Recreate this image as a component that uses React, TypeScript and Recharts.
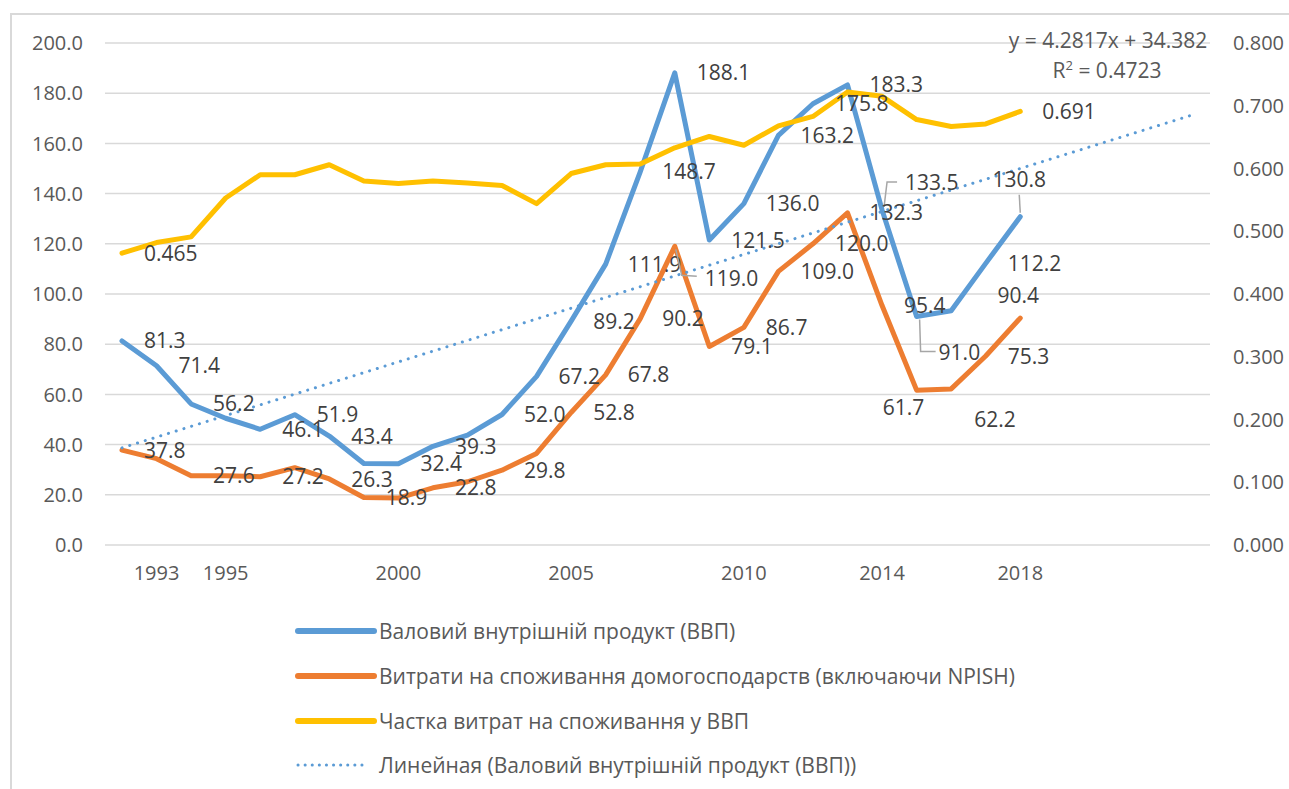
import React from "react";
import {
  ComposedChart,
  Line,
  XAxis,
  YAxis,
  CartesianGrid,
  Legend,
  LabelList,
  Customized,
} from "recharts";

// categories (trend line is forecast to 2023)
const years = [
  "1992", "1993", "1994", "1995", "1996", "1997", "1998", "1999", "2000",
  "2001", "2002", "2003", "2004", "2005", "2006", "2007", "2008", "2009",
  "2010", "2011", "2012", "2013", "2014", "2015", "2016", "2017", "2018",
  "2019", "2020", "2021", "2022", "2023",
];

const gdp = [
  81.3, 71.4, 56.2, 50.5, 46.1, 51.9, 43.4, 32.5, 32.4, 39.3, 43.8, 52.0, 67.2,
  89.2, 111.9, 148.7, 188.1, 121.5, 136.0, 163.2, 175.8, 183.3, 133.5, 91.0,
  93.3, 112.2, 130.8,
];

const consumption = [
  37.8, 34.4, 27.6, 27.6, 27.2, 30.8, 26.3, 18.9, 18.7, 22.8, 25.2, 29.8, 36.5,
  52.8, 67.8, 90.2, 119.0, 79.1, 86.7, 109.0, 120.0, 132.3, 95.4, 61.7, 62.2,
  75.3, 90.4,
];

const share = [
  0.465, 0.482, 0.491, 0.553, 0.59, 0.59, 0.606, 0.58, 0.576, 0.58, 0.577,
  0.573, 0.544, 0.592, 0.606, 0.607, 0.633, 0.651, 0.637, 0.668, 0.683, 0.722,
  0.715, 0.678, 0.667, 0.671, 0.691,
];

// linear trend of GDP, first and last forecast value
const trendStart = 38.7;
const trendEnd = 171.4;

const xTicks = ["1993", "1995", "2000", "2005", "2010", "2014", "2018"];
const leftTicks = [0, 20, 40, 60, 80, 100, 120, 140, 160, 180, 200];
const rightTicks = [0, 0.1, 0.2, 0.3, 0.4, 0.5, 0.6, 0.7, 0.8];

const names = {
  gdp: "Валовий внутрішній продукт (ВВП)",
  consumption: "Витрати на споживання домогосподарств (включаючи NPISH)",
  share: "Частка витрат на споживання у ВВП",
  trend: "Линейная (Валовий внутрішній продукт (ВВП))",
};
const legendOrder = ["gdp", "consumption", "share", "trend"];

const data = years.map((year, i) => ({
  year,
  gdp: i < gdp.length ? gdp[i] : null,
  consumption: i < consumption.length ? consumption[i] : null,
  share: i < share.length ? share[i] : null,
  trend: i === 0 ? trendStart : i === years.length - 1 ? trendEnd : null,
}));

const FONT = "'Open Sans', 'DejaVu Sans', sans-serif";
const BLUE = "#5B9BD5";
const ORANGE = "#ED7D31";
const YELLOW = "#FFC000";
const GRAY = "#595959";
const LEADER = "#A6A6A6";

// label placement (Excel "right" by default, a few moved by hand)
type Place = {
  dx?: number;
  dy?: number;
  anchor?: "start" | "middle" | "end";
  leader?: number[][];
};
const R: Place = {};

const gdpLabels: Record<number, Place> = {
  0: R, 1: R, 2: R, 4: R, 5: R, 6: R, 8: R, 9: R, 11: R, 12: R, 13: R, 14: R,
  15: R, 16: R, 17: R, 18: R, 19: R, 20: R, 21: R, 25: R,
  22: { dx: 23, dy: -27, leader: [[15, -28], [5, -28], [2, -3]] },
  23: { dx: 22, dy: 36, leader: [[3, 3], [4, 35], [19, 35]] },
  26: { dx: -1, dy: -37, anchor: "middle", leader: [[-1, -22], [0, -4]] },
};

const consLabels: Record<number, Place> = {
  0: R, 2: R, 4: R, 6: R, 7: R, 9: R, 11: R, 13: R, 14: R, 15: R, 17: R, 18: R,
  19: R, 20: R, 21: R, 22: R, 25: R,
  16: { dx: 30, dy: 32, leader: [[1, 3], [7, 29], [22, 30]] },
  23: { dx: -13, dy: 17, anchor: "middle" },
  24: { dx: 23, dy: 31 },
  26: { dx: -2, dy: -23, anchor: "middle" },
};

const shareLabels: Record<number, Place> = { 0: R, 26: R };

const makeLabel =
  (places: Record<number, Place>, fmt: (v: number) => string) =>
  (props: any) => {
    const { x, y, value, index } = props;
    const p = places[index];
    if (!p || value == null || x == null || y == null) return null;
    const dx = p.dx ?? 22;
    const dy = p.dy ?? 0;
    return (
      <g>
        {p.leader && (
          <polyline
            points={p.leader.map(([a, b]) => `${x + a},${y + b}`).join(" ")}
            fill="none"
            stroke={LEADER}
            strokeWidth={1.5}
          />
        )}
        <text
          x={x + dx}
          y={y + dy}
          dy="0.36em"
          textAnchor={p.anchor ?? "start"}
          fill="#404040"
          fontSize={21}
          fontFamily={FONT}
        >
          {fmt(Number(value))}
        </text>
      </g>
    );
  };

const oneDec = (v: number) => v.toFixed(1);
const threeDec = (v: number) => v.toFixed(3);

const LegendContent = (props: any) => {
  const items = [...(props.payload ?? [])].sort(
    (a: any, b: any) =>
      legendOrder.indexOf(a.dataKey) - legendOrder.indexOf(b.dataKey)
  );
  return (
    <div style={{ fontFamily: FONT, fontSize: 21, color: GRAY }}>
      {items.map((e: any, i: number) => {
        const dotted = e.dataKey === "trend";
        return (
          <div
            key={i}
            style={{ display: "flex", alignItems: "center", height: 44.7 }}
          >
            <svg width={84} height={10}>
              <line
                x1={4}
                x2={dotted ? 74 : 80}
                y1={5}
                y2={5}
                stroke={e.color}
                strokeWidth={dotted ? 3 : 6}
                strokeLinecap="round"
                strokeDasharray={dotted ? "0.1 7" : undefined}
              />
            </svg>
            <span style={{ marginLeft: 1, whiteSpace: "nowrap" }}>
              {e.value}
            </span>
          </div>
        );
      })}
    </div>
  );
};

const Equation = () => (
  <g fontFamily={FONT} fontSize={21} fill={GRAY} textAnchor="middle">
    <text x={1108} y={48}>y = 4.2817x + 34.382</text>
    <text x={1107} y={78}>
      R<tspan fontSize={13} dy={-8}>2</tspan>
      <tspan dy={8}> = 0.4723</tspan>
    </text>
  </g>
);

export default function App() {
  return (
    <div
      style={{
        position: "absolute",
        left: 0,
        top: 0,
        width: 1289,
        height: 789,
        background: "#fff",
        overflow: "hidden",
      }}
    >
      <div
        style={{
          position: "absolute",
          left: 10,
          top: 13,
          width: 1400,
          height: 900,
          borderLeft: "2px solid #D9D9D9",
          borderTop: "2px solid #D9D9D9",
        }}
      />
      <ComposedChart
        width={1289}
        height={789}
        data={data}
        margin={{ top: 43, right: 0, left: 0, bottom: 0 }}
        style={{ fontFamily: FONT }}
      >
        <CartesianGrid
          yAxisId="left"
          vertical={false}
          stroke="#D9D9D9"
          strokeWidth={1.5}
        />
        <XAxis
          dataKey="year"
          ticks={xTicks}
          interval={0}
          height={244}
          padding={{ left: 17, right: 17 }}
          axisLine={false}
          tickLine={false}
          tickSize={0}
          tickMargin={21}
          tick={{ fill: GRAY, fontSize: 20, fontFamily: FONT }}
        />
        <YAxis
          yAxisId="left"
          width={105}
          domain={[0, 200]}
          ticks={leftTicks}
          tickFormatter={oneDec}
          axisLine={false}
          tickLine={false}
          tickSize={0}
          tickMargin={22}
          tick={{ fill: GRAY, fontSize: 20, fontFamily: FONT }}
        />
        <YAxis
          yAxisId="right"
          orientation="right"
          width={79}
          domain={[0, 0.8]}
          ticks={rightTicks}
          tickFormatter={threeDec}
          axisLine={false}
          tickLine={false}
          tickSize={0}
          tickMargin={23}
          tick={{ fill: GRAY, fontSize: 20, fontFamily: FONT }}
        />
        <Line
          yAxisId="left"
          dataKey="gdp"
          name={names.gdp}
          stroke={BLUE}
          strokeWidth={5}
          strokeLinecap="round"
          strokeLinejoin="round"
          dot={false}
          activeDot={false}
          isAnimationActive={false}
        >
          <LabelList dataKey="gdp" content={makeLabel(gdpLabels, oneDec)} />
        </Line>
        <Line
          yAxisId="left"
          dataKey="consumption"
          name={names.consumption}
          stroke={ORANGE}
          strokeWidth={5}
          strokeLinecap="round"
          strokeLinejoin="round"
          dot={false}
          activeDot={false}
          isAnimationActive={false}
        >
          <LabelList
            dataKey="consumption"
            content={makeLabel(consLabels, oneDec)}
          />
        </Line>
        <Line
          yAxisId="right"
          dataKey="share"
          name={names.share}
          stroke={YELLOW}
          strokeWidth={5}
          strokeLinecap="round"
          strokeLinejoin="round"
          dot={false}
          activeDot={false}
          isAnimationActive={false}
        >
          <LabelList
            dataKey="share"
            content={makeLabel(shareLabels, threeDec)}
          />
        </Line>
        <Line
          yAxisId="left"
          dataKey="trend"
          name={names.trend}
          stroke={BLUE}
          strokeWidth={3}
          strokeLinecap="round"
          strokeDasharray="0.1 8"
          connectNulls
          dot={false}
          activeDot={false}
          isAnimationActive={false}
        />
        <Customized component={Equation} />
        <Legend
          layout="vertical"
          align="center"
          verticalAlign="middle"
          content={LegendContent}
          wrapperStyle={{ position: "absolute", left: 294, top: 609, width: 800 }}
        />
      </ComposedChart>
    </div>
  );
}
